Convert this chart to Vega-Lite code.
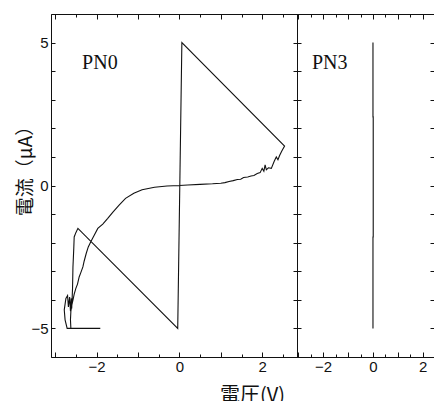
{
  "$schema": "https://vega.github.io/schema/vega-lite/v6.json",
  "padding": {"left": 16, "top": 7, "right": 0, "bottom": 0},
  "spacing": 0,
  "bounds": "flush",
  "background": "white",
  "config": {
    "view": {"stroke": null},
    "axis": {
      "grid": false,
      "domainColor": "#111",
      "tickColor": "#111",
      "labelColor": "#111",
      "titleColor": "#111",
      "labelFont": "Liberation Sans",
      "labelFontSize": 15,
      "labelFlush": false,
      "labelOverlap": false,
      "domainWidth": 1,
      "tickWidth": 1
    }
  },
  "datasets": {
    "pn0": [
      {"n": 1, "v": -1.91, "c": -5.0},
      {"n": 2, "v": -2.71, "c": -5.0},
      {"n": 3, "v": -2.76, "c": -4.7},
      {"n": 4, "v": -2.78, "c": -4.35},
      {"n": 5, "v": -2.74, "c": -3.95},
      {"n": 6, "v": -2.70, "c": -3.85},
      {"n": 7, "v": -2.68, "c": -4.25},
      {"n": 8, "v": -2.65, "c": -3.9},
      {"n": 9, "v": -2.63, "c": -4.4},
      {"n": 10, "v": -2.61, "c": -3.95},
      {"n": 11, "v": -2.60, "c": -4.3},
      {"n": 12, "v": -2.58, "c": -3.6},
      {"n": 13, "v": -2.57, "c": -2.85},
      {"n": 14, "v": -2.55, "c": -2.2},
      {"n": 15, "v": -2.54, "c": -1.8},
      {"n": 16, "v": -2.50, "c": -1.65},
      {"n": 17, "v": -2.45, "c": -1.5},
      {"n": 18, "v": -0.04, "c": -5.0},
      {"n": 19, "v": 0.06, "c": 5.0},
      {"n": 20, "v": 2.54, "c": 1.38},
      {"n": 21, "v": 2.47, "c": 1.2},
      {"n": 22, "v": 2.42, "c": 1.05},
      {"n": 23, "v": 2.38, "c": 0.9},
      {"n": 24, "v": 2.34, "c": 1.0},
      {"n": 25, "v": 2.29, "c": 0.85},
      {"n": 26, "v": 2.22, "c": 0.6},
      {"n": 27, "v": 2.15, "c": 0.62},
      {"n": 28, "v": 2.10, "c": 0.55},
      {"n": 29, "v": 2.07, "c": 0.72},
      {"n": 30, "v": 2.04, "c": 0.5},
      {"n": 31, "v": 2.00, "c": 0.6},
      {"n": 32, "v": 1.95, "c": 0.45},
      {"n": 33, "v": 1.88, "c": 0.42},
      {"n": 34, "v": 1.80, "c": 0.35},
      {"n": 35, "v": 1.73, "c": 0.33},
      {"n": 36, "v": 1.65, "c": 0.3},
      {"n": 37, "v": 1.55, "c": 0.28},
      {"n": 38, "v": 1.48, "c": 0.22},
      {"n": 39, "v": 1.40, "c": 0.21},
      {"n": 40, "v": 1.30, "c": 0.17},
      {"n": 41, "v": 1.20, "c": 0.14},
      {"n": 42, "v": 1.10, "c": 0.1},
      {"n": 43, "v": 1.00, "c": 0.08},
      {"n": 44, "v": 0.80, "c": 0.06},
      {"n": 45, "v": 0.50, "c": 0.04},
      {"n": 46, "v": 0.20, "c": 0.02},
      {"n": 47, "v": 0.00, "c": 0.0},
      {"n": 48, "v": -0.30, "c": -0.02},
      {"n": 49, "v": -0.60, "c": -0.06},
      {"n": 50, "v": -0.90, "c": -0.15},
      {"n": 51, "v": -1.10, "c": -0.27},
      {"n": 52, "v": -1.30, "c": -0.45},
      {"n": 53, "v": -1.45, "c": -0.68},
      {"n": 54, "v": -1.60, "c": -0.92},
      {"n": 55, "v": -1.73, "c": -1.15},
      {"n": 56, "v": -1.85, "c": -1.35},
      {"n": 57, "v": -1.97, "c": -1.5},
      {"n": 58, "v": -2.05, "c": -1.72},
      {"n": 59, "v": -2.13, "c": -1.94},
      {"n": 60, "v": -2.20, "c": -2.15},
      {"n": 61, "v": -2.25, "c": -2.38},
      {"n": 62, "v": -2.30, "c": -2.65},
      {"n": 63, "v": -2.33, "c": -2.85},
      {"n": 64, "v": -2.38, "c": -3.05},
      {"n": 65, "v": -2.42, "c": -3.2},
      {"n": 66, "v": -2.46, "c": -3.45},
      {"n": 67, "v": -2.50, "c": -3.6},
      {"n": 68, "v": -2.54, "c": -3.8},
      {"n": 69, "v": -2.57, "c": -4.01},
      {"n": 70, "v": -2.60, "c": -4.2},
      {"n": 71, "v": -2.62, "c": -4.4},
      {"n": 72, "v": -2.63, "c": -4.7},
      {"n": 73, "v": -2.62, "c": -5.0}
    ],
    "pn3": [
      {"n": 1, "v": 0.0, "c": -5.0},
      {"n": 2, "v": 0.0, "c": -1.8},
      {"n": 3, "v": 0.01, "c": -1.8},
      {"n": 4, "v": 0.01, "c": 2.4},
      {"n": 5, "v": 0.0, "c": 2.4},
      {"n": 6, "v": 0.0, "c": 5.0}
    ],
    "lab0": [{"label": "PN0", "v": -2.35, "c": 4.28}],
    "lab3": [{"label": "PN3", "v": -2.45, "c": 4.28}]
  },
  "hconcat": [
    {
      "width": 246,
      "height": 343,
      "resolve": {"axis": {"x": "independent", "y": "independent"}},
      "layer": [
        {
          "data": {"name": "pn0"},
          "mark": {"type": "line", "color": "#111", "strokeWidth": 1.1},
          "encoding": {
            "x": {"field": "v", "type": "quantitative", "scale": {"domain": [-3.1, 2.84], "nice": false, "zero": false},
              "axis": {"orient": "bottom", "values": [-3, -2, -1, 0, 1, 2], "tickSize": -5, "labelPadding": 7,
                "labelExpr": "abs(datum.value) % 2 == 0 ? datum.label : ''",
                "title": "電圧(V)", "titleFont": "Noto Sans CJK JP", "titleFontSize": 20, "titleFontWeight": "normal",
                "titleX": 201, "titleY": 28, "titleBaseline": "top", "titleAlign": "center"}},
            "y": {"field": "c", "type": "quantitative", "scale": {"domain": [-6, 6], "nice": false, "zero": false},
              "axis": {"orient": "left", "values": [-6, -5, -4, -3, -2, -1, 0, 1, 2, 3, 4, 5, 6], "tickSize": -4, "labelPadding": 7,
                "labelExpr": "abs(datum.value) == 5 || datum.value == 0 ? datum.label : ''",
                "title": "電流（μA）", "titleFont": "Noto Sans CJK JP", "titleFontSize": 19, "titleFontWeight": "normal",
                "titleX": -26, "titleY": 152, "titleBaseline": "middle", "titleAlign": "center", "titleAngle": -90}},
            "order": {"field": "n", "type": "quantitative"}
          }
        },
        {
          "data": {"name": "pn0"},
          "mark": {"type": "line", "opacity": 0},
          "encoding": {
            "x": {"field": "v", "type": "quantitative",
              "axis": {"orient": "top", "values": [-3, -2, -1, 0, 1, 2], "tickSize": -5, "labels": false, "title": null}},
            "y": {"field": "c", "type": "quantitative",
              "axis": {"orient": "right", "values": [-6, -5, -4, -3, -2, -1, 0, 1, 2, 3, 4, 5, 6], "tickSize": -4, "labels": false, "title": null}},
            "order": {"field": "n", "type": "quantitative"}
          }
        },
        {
          "data": {"name": "pn0"},
          "mark": {"type": "line", "opacity": 0},
          "encoding": {
            "x": {"field": "v", "type": "quantitative",
              "axis": {"orient": "bottom", "values": [-2.5, -1.5, -0.5, 0.5, 1.5, 2.5], "tickSize": -3, "labels": false, "domain": false, "title": null}},
            "y": {"field": "c", "type": "quantitative", "axis": null},
            "order": {"field": "n", "type": "quantitative"}
          }
        },
        {
          "data": {"name": "pn0"},
          "mark": {"type": "line", "opacity": 0},
          "encoding": {
            "x": {"field": "v", "type": "quantitative",
              "axis": {"orient": "top", "values": [-2.5, -1.5, -0.5, 0.5, 1.5, 2.5], "tickSize": -3, "labels": false, "domain": false, "title": null}},
            "y": {"field": "c", "type": "quantitative", "axis": null},
            "order": {"field": "n", "type": "quantitative"}
          }
        },
        {
          "data": {"name": "lab0"},
          "mark": {"type": "text", "align": "left", "baseline": "middle", "font": "Liberation Serif", "fontSize": 20, "color": "#111"},
          "encoding": {
            "x": {"field": "v", "type": "quantitative", "axis": null},
            "y": {"field": "c", "type": "quantitative", "axis": null},
            "text": {"field": "label"}
          }
        }
      ]
    },
    {
      "width": 137,
      "height": 343,
      "resolve": {"axis": {"x": "independent", "y": "independent"}},
      "layer": [
        {
          "data": {"name": "pn3"},
          "mark": {"type": "line", "color": "#111", "strokeWidth": 1.1},
          "encoding": {
            "x": {"field": "v", "type": "quantitative", "scale": {"domain": [-3.05, 2.45], "nice": false, "zero": false},
              "axis": {"orient": "bottom", "values": [-3, -2, -1, 0, 1, 2], "tickSize": -5, "labelPadding": 7,
                "labelExpr": "abs(datum.value) % 2 == 0 ? datum.label : ''", "title": null}},
            "y": {"field": "c", "type": "quantitative", "scale": {"domain": [-6, 6], "nice": false, "zero": false},
              "axis": {"orient": "left", "values": [-6, -5, -4, -3, -2, -1, 0, 1, 2, 3, 4, 5, 6], "tickSize": -4, "labels": false, "title": null}},
            "order": {"field": "n", "type": "quantitative"}
          }
        },
        {
          "data": {"name": "pn3"},
          "mark": {"type": "line", "opacity": 0},
          "encoding": {
            "x": {"field": "v", "type": "quantitative",
              "axis": {"orient": "top", "values": [-3, -2, -1, 0, 1, 2], "tickSize": -5, "labels": false, "title": null}},
            "y": {"field": "c", "type": "quantitative",
              "axis": {"orient": "right", "values": [-6, -5, -4, -3, -2, -1, 0, 1, 2, 3, 4, 5, 6], "tickSize": -4, "labels": false, "title": null}},
            "order": {"field": "n", "type": "quantitative"}
          }
        },
        {
          "data": {"name": "pn3"},
          "mark": {"type": "line", "opacity": 0},
          "encoding": {
            "x": {"field": "v", "type": "quantitative",
              "axis": {"orient": "bottom", "values": [-2.5, -1.5, -0.5, 0.5, 1.5], "tickSize": -3, "labels": false, "domain": false, "title": null}},
            "y": {"field": "c", "type": "quantitative", "axis": null},
            "order": {"field": "n", "type": "quantitative"}
          }
        },
        {
          "data": {"name": "pn3"},
          "mark": {"type": "line", "opacity": 0},
          "encoding": {
            "x": {"field": "v", "type": "quantitative",
              "axis": {"orient": "top", "values": [-2.5, -1.5, -0.5, 0.5, 1.5], "tickSize": -3, "labels": false, "domain": false, "title": null}},
            "y": {"field": "c", "type": "quantitative", "axis": null},
            "order": {"field": "n", "type": "quantitative"}
          }
        },
        {
          "data": {"name": "lab3"},
          "mark": {"type": "text", "align": "left", "baseline": "middle", "font": "Liberation Serif", "fontSize": 20, "color": "#111"},
          "encoding": {
            "x": {"field": "v", "type": "quantitative", "axis": null},
            "y": {"field": "c", "type": "quantitative", "axis": null},
            "text": {"field": "label"}
          }
        }
      ]
    }
  ]
}
